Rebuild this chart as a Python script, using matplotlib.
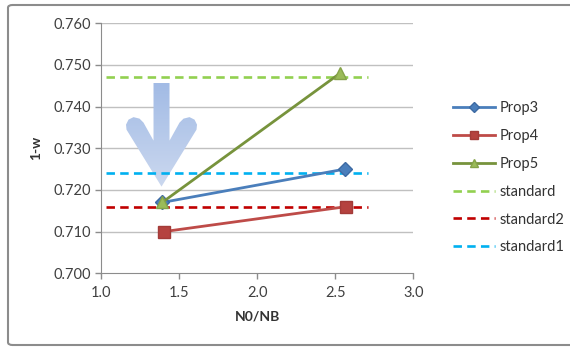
import numpy as np
import matplotlib
matplotlib.use("Agg")
import matplotlib.pyplot as plt
from matplotlib.patches import Polygon, FancyBboxPatch
from matplotlib.colors import LinearSegmentedColormap

plt.rcParams["font.family"] = ["Lato", "DejaVu Sans"]

# measured series
prop3_x = [1.39, 2.56]
prop3_y = [0.717, 0.725]
prop4_x = [1.40, 2.57]
prop4_y = [0.710, 0.716]
prop5_x = [1.39, 2.53]
prop5_y = [0.717, 0.748]

# reference levels
std_x = [1.03, 2.71]
standard = 0.747
standard2 = 0.716
standard1 = 0.724

xticks = [1.0, 1.5, 2.0, 2.5, 3.0]
yticks = [0.700, 0.710, 0.720, 0.730, 0.740, 0.750, 0.760]

W, H = 570, 347
fig = plt.figure(figsize=(W / 100, H / 100), dpi=100)
ax_left, ax_bottom, ax_w, ax_h = 101.3 / W, 1 - 273.3 / H, 312 / W, 250 / H
ax = fig.add_axes([ax_left, ax_bottom, ax_w, ax_h])

# chart frame (runs off the right edge)
frame = FancyBboxPatch((8 / W, 2 / H), 1, 1 - 7 / H,
                       boxstyle="round,pad=0,rounding_size=0.008",
                       transform=fig.transFigure, fc="white", ec="#8c8c8c", lw=1.5,
                       zorder=-10)
fig.patches.append(frame)

grid_c = "#c0c0c0"
for yv in yticks[1:]:
    ax.axhline(yv, color=grid_c, lw=1.0, zorder=0)

lw_d = 1.9
dash = (0, (3.2, 2.0))
ax.plot(std_x, [standard] * 2, color="#92d050", lw=lw_d, ls=dash, zorder=2, label="standard")
ax.plot(std_x, [standard2] * 2, color="#c00000", lw=lw_d, ls=dash, zorder=2, label="standard2")
ax.plot(std_x, [standard1] * 2, color="#00b0f0", lw=lw_d, ls=dash, zorder=2, label="standard1")

ax.plot(prop3_x, prop3_y, color="#4a7ebb", lw=2.0, marker="D", ms=7,
        mfc="#4a7ebb", mec="#3d6aa3", zorder=4, label="Prop3")
ax.plot(prop4_x, prop4_y, color="#be4b48", lw=2.0, marker="s", ms=8,
        mfc="#b5423f", mec="#a33b38", zorder=4, label="Prop4")
ax.plot(prop5_x, prop5_y, color="#77933c", lw=2.0, marker="^", ms=8,
        mfc="#9bbb59", mec="#85a348", zorder=5, label="Prop5")

ax.set_xlim(1.0, 3.0)
ax.set_ylim(0.700, 0.760)
ax.set_xticks(xticks)
ax.set_yticks(yticks)
ax.set_xticklabels([f"{v:.1f}" for v in xticks])
ax.set_yticklabels([f"{v:.3f}" for v in yticks])
ax.tick_params(colors="#8c8c8c", labelcolor="#404040", labelsize=10.5, length=4, width=1)
ax.tick_params(axis="x", pad=5)
for s in ("top", "right"):
    ax.spines[s].set_visible(False)
for s in ("left", "bottom"):
    ax.spines[s].set_color("#8c8c8c")
ax.set_xlabel("N0/NB", fontsize=10, fontweight="bold", color="#333333", labelpad=8)
ax.set_ylabel("1-w", fontsize=10, fontweight="bold", color="#333333", labelpad=8)

# down arrow, shaped in pixel offsets from its tip
px_x = 2.0 / 312
px_y = 0.06 / 250
tip_x, tip_y = 1.386, 0.7208
shape = [(0, 0), (-35, 57), (-35.5, 62), (-33, 67), (-28, 69.5), (-22, 68), (-18, 64),
         (-8, 46), (-8, 104), (8, 104), (8, 46), (18, 64), (22, 68), (28, 69.5),
         (33, 67), (35.5, 62), (35, 57)]
verts = np.array([(tip_x + dx * px_x, tip_y + dy * px_y) for dx, dy in shape])
poly = Polygon(verts, closed=True, fc="none", ec="none", zorder=1.5)
ax.add_patch(poly)
cmap = LinearSegmentedColormap.from_list("arrow", ["#cbd8ef", "#a2bbe5"])
grad = np.linspace(0, 1, 100).reshape(-1, 1)
img = ax.imshow(grad, cmap=cmap, origin="lower", aspect="auto", zorder=1.5,
                extent=[verts[:, 0].min(), verts[:, 0].max(),
                        verts[:, 1].min(), verts[:, 1].max()])
img.set_clip_path(poly)
ax.set_xlim(1.0, 3.0)
ax.set_ylim(0.700, 0.760)

handles, labels = ax.get_legend_handles_labels()
order = ["Prop3", "Prop4", "Prop5", "standard", "standard2", "standard1"]
hmap = dict(zip(labels, handles))
fig.legend([hmap[k] for k in order], order, loc="upper left",
           bbox_to_anchor=(440 / W, 1 - 88 / H), frameon=False, fontsize=10.5,
           labelspacing=0.95, handlelength=2.9, handletextpad=0.3, labelcolor="#333333",
           markerscale=0.75)

fig.savefig("out.png", dpi=100)
